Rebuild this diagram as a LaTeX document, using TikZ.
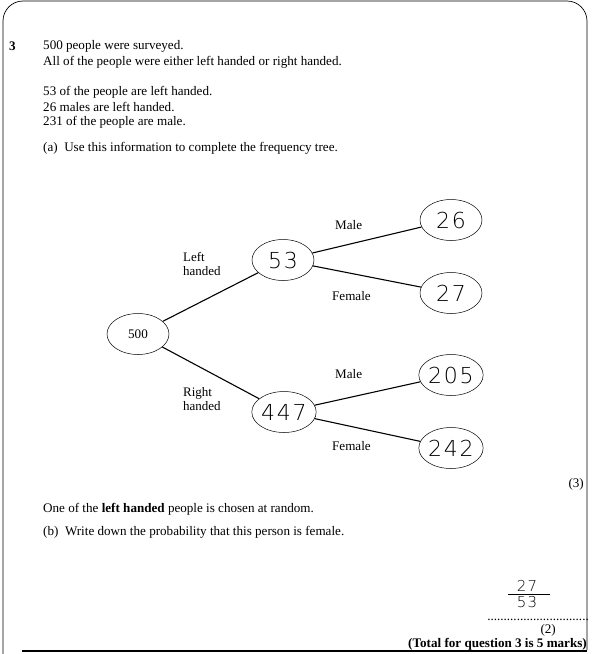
\documentclass[tikz,border=0pt]{standalone}
\usepackage{fontspec}
\setmainfont{Liberation Serif}
\newfontfamily\hand[LetterSpace=8]{DejaVu Sans ExtraLight}
\usetikzlibrary{shapes.geometric}
\tikzset{
  txt/.style={anchor=west, inner sep=0pt, font=\fontsize{13.1}{15}\selectfont},
  lbl/.style={anchor=west, inner sep=0pt, align=left, font=\fontsize{13}{14.5}\selectfont},
  oval/.style={draw, ellipse, line width=0.5pt, minimum width=62pt, minimum height=41pt, inner sep=0pt},
  hw/.style={font=\hand\fontsize{22}{22}\selectfont},
  hwsmall/.style={font=\hand\fontsize{15}{15}\selectfont, inner sep=0pt},
  branch/.style={line width=1.1pt},
}
\begin{document}
\begin{tikzpicture}[x=1pt,y=-1pt]
\useasboundingbox (0,0) rectangle (592,654);
% frame
\draw[line width=0.7pt, rounded corners=20pt] (3,654) -- (3,1) -- (587,1) -- (587,650);
\draw[line width=1.3pt] (22,651) -- (587,651);

% question text
\node[txt, font=\bfseries\fontsize{13.1}{15}\selectfont] (q3) at (9,46) {3};
\node[txt] (t1) at (43,46) {500 people were surveyed.};
\node[txt] (t2) at (43,62) {All of the people were either left handed or right handed.};
\node[txt] (t3) at (43,92) {53 of the people are left handed.};
\node[txt] (t4) at (43,107) {26 males are left handed.};
\node[txt] (t5) at (43,122) {231 of the people are male.};
\node[txt] (t6) at (43,148) {(a)\ \ Use this information to complete the frequency tree.};

% tree
\node[oval, font=\fontsize{13.1}{15}\selectfont] (n500) at (138,334) {500};
\node[oval, hw] (n53) at (283,260) {53};
\node[oval, hw] (n447) at (284,412) {447};
\node[oval, hw] (n26) at (451,220) {26};
\node[oval, hw] (n27) at (451,293) {27};
\node[oval, hw] (n205) at (451,375) {205};
\node[oval, hw] (n242) at (451,448) {242};

\draw[branch] (n500) -- (n53);
\draw[branch] (n500) -- (n447);
\draw[branch] (n53) -- (n26);
\draw[branch] (n53) -- (n27);
\draw[branch] (n447) -- (n205);
\draw[branch] (n447) -- (n242);

\node[lbl] (lh) at (183,264) {Left\\handed};
\node[lbl] (rh) at (183,399) {Right\\handed};
\node[txt] (m1) at (335,225) {Male};
\node[txt] (f1) at (332,296) {Female};
\node[txt] (m2) at (335,374) {Male};
\node[txt] (f2) at (332,446) {Female};

\node[txt, anchor=east] (m3) at (584,484) {(3)};

\node[txt] (t7) at (43,509) {One of the \textbf{left handed} people is chosen at random.};
\node[txt] (t8) at (43,532) {(b)\ \ Write down the probability that this person is female.};

% answer
\node[hwsmall] (a27) at (527,586) {27};
\node[hwsmall] (a53) at (527,602) {53};
\coordinate (barL) at (508,594);
\coordinate (barR) at (550,594);
\draw[line width=0.6pt] (barL) -- (barR);
\node[txt, anchor=base east] (dots) at (589,620) {...............................};
\node[txt, anchor=east] (m2b) at (556,630.5) {(2)};
\node[txt, anchor=east, font=\bfseries\fontsize{13.1}{15}\selectfont] (tot) at (587,644) {(Total for question 3 is 5 marks)};
\end{tikzpicture}
\end{document}
